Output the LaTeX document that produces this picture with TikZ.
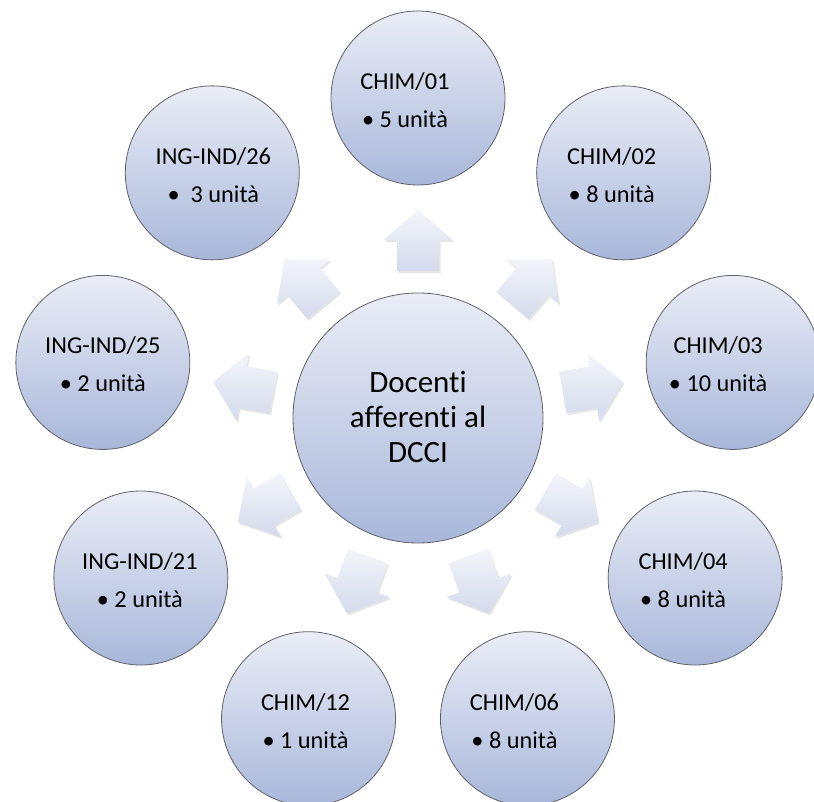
\documentclass[tikz,border=0pt]{standalone}
\usepackage{fontspec}
\setmainfont{Carlito}[Ligatures=NoCommon]
\usetikzlibrary{calc}
\definecolor{circtop}{HTML}{EAEDF6}
\definecolor{circbot}{HTML}{A8B7DA}
\definecolor{arrtop}{HTML}{F3F5FA}
\definecolor{arrbot}{HTML}{D3DAEC}
\definecolor{rim}{HTML}{606268}
\begin{document}
\begin{tikzpicture}[x=1pt,y=1pt,
  bubble/.style={circle,draw=rim,line width=0.8pt,top color=circtop,bottom color=circbot,minimum size=174pt,inner sep=0pt},
  hub/.style={bubble,minimum size=250pt},
  lbl/.style={align=center,font=\fontsize{24.3}{38}\selectfont,text=black,inner sep=0pt},
  hubtxt/.style={align=center,font=\fontsize{31}{35}\selectfont,text=black,inner sep=0pt},
  arr/.style={top color=arrtop,bottom color=arrbot,draw=none},
  arrshadow/.style={fill=black,opacity=0.10,draw=none}]
\useasboundingbox (0,0) rectangle (814,801);
\coordinate (C) at (418,383);

% radial block arrows
\foreach \a in {90,50,...,-230}{
  \fill[arrshadow] ($(C)+(\a:147)+(\a+90:21)+(1.5,-2)$) -- ($(C)+(\a:178)+(\a+90:21)+(1.5,-2)$)
     -- ($(C)+(\a:178)+(\a+90:34.5)+(1.5,-2)$) -- ($(C)+(\a:208)+(1.5,-2)$)
     -- ($(C)+(\a:178)+(\a-90:34.5)+(1.5,-2)$) -- ($(C)+(\a:178)+(\a-90:21)+(1.5,-2)$)
     -- ($(C)+(\a:147)+(\a-90:21)+(1.5,-2)$) -- cycle;
  \path[arr] ($(C)+(\a:147)+(\a+90:21)$) -- ($(C)+(\a:178)+(\a+90:21)$)
     -- ($(C)+(\a:178)+(\a+90:34.5)$) -- ($(C)+(\a:208)$)
     -- ($(C)+(\a:178)+(\a-90:34.5)$) -- ($(C)+(\a:178)+(\a-90:21)$)
     -- ($(C)+(\a:147)+(\a-90:21)$) -- cycle;
}

% central circle
\node[hub] (hub) at (C) {};
\node[hubtxt] (hubt) at ($(hub.center)+(0,1)$) {Docenti\\afferenti al\\DCCI};

% outer circles
\node[bubble] (c1) at ($(C)+(90:320)$) {};
\node[lbl] (t1) at ($(c1.center)+(-13,-2)$) {CHIM/01\\• 5 unità};
\node[bubble] (c2) at ($(C)+(50:320)$) {};
\node[lbl] (t2) at ($(c2.center)+(-12,-2)$) {CHIM/02\\• 8 unità};
\node[bubble] (c3) at ($(C)+(10:320)$) {};
\node[lbl] (t3) at ($(c3.center)+(-15,-2)$) {CHIM/03\\• 10 unità};
\node[bubble] (c4) at ($(C)+(-30:320)$) {};
\node[lbl] (t4) at ($(c4.center)+(-12,-2)$) {CHIM/04\\• 8 unità};
\node[bubble] (c5) at ($(C)+(-70:320)$) {};
\node[lbl] (t5) at ($(c5.center)+(-13,-2)$) {CHIM/06\\• 8 unità};
\node[bubble] (c6) at ($(C)+(-110:320)$) {};
\node[lbl] (t6) at ($(c6.center)+(-3,-2)$) {CHIM/12\\• 1 unità};
\node[bubble] (c7) at ($(C)+(-150:320)$) {};
\node[lbl] (t7) at ($(c7.center)+(-1,-2)$) {ING-IND/21\\• 2 unità};
\node[bubble] (c8) at ($(C)+(170:320)$) {};
\node[lbl] (t8) at ($(c8.center)+(0,-2)$) {ING-IND/25\\• 2 unità};
\node[bubble] (c9) at ($(C)+(130:320)$) {};
\node[lbl] (t9) at ($(c9.center)+(1,-2)$) {ING-IND/26\\•\hspace{11pt}3 unità};
\end{tikzpicture}
\end{document}
